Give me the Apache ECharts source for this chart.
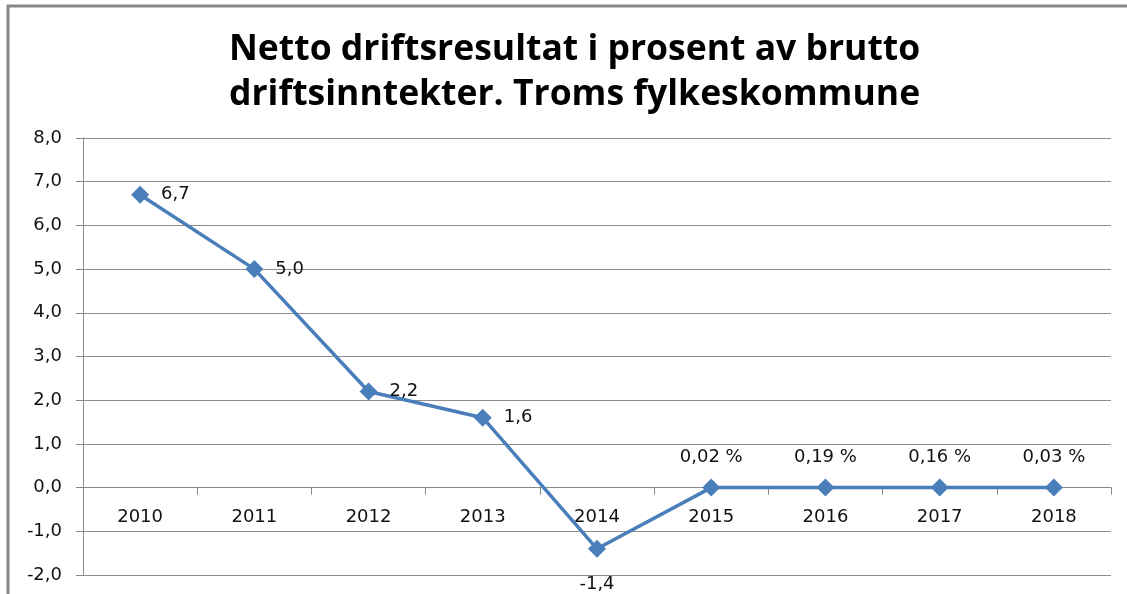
<!DOCTYPE html>
<html>
<head>
<meta charset="utf-8">
<script src="https://cdn.jsdelivr.net/npm/echarts@6/dist/echarts.min.js"></script>
<style>
  html, body { margin: 0; padding: 0; background: #fff; }
  #chart { width: 1127px; height: 594px; }
</style>
</head>
<body>
<div id="chart"></div>
<script>
const years = ['2010', '2011', '2012', '2013', '2014', '2015', '2016', '2017', '2018'];
// 2015-2018 are given as fractions and labelled as percent
const values = [6.7, 5.0, 2.2, 1.6, -1.4, 0.0002, 0.0019, 0.0016, 0.0003];
const labelPos = ['right', 'right', 'right', 'right', 'bottom', 'top', 'top', 'top', 'top'];

const fmt = v => {
    if (v !== 0 && Math.abs(v) < 0.01) return (v * 100).toFixed(2).replace('.', ',') + ' %';
    return v.toFixed(1).replace('.', ',');
};

const gridTop = 138, gridBottom = 19, yMin = -2, yMax = 8;
const plotH = 594 - gridTop - gridBottom;
// pull the category axis (and its labels) up to the zero line
const zeroOffset = -plotH * (0 - yMin) / (yMax - yMin);

const myChart = echarts.init(document.getElementById('chart'));

const option = {
    backgroundColor: '#fff',
    animation: false,
    title: {
        text: 'Netto driftsresultat i prosent av brutto\ndriftsinntekter. Troms fylkeskommune',
        left: 224,
        top: 22,
        textStyle: {
            fontFamily: 'Open Sans',
            fontWeight: 'bold',
            fontSize: 35.5,
            lineHeight: 45,
            color: '#000'
        },
        textAlign: 'left'
    },
    graphic: [{
        type: 'rect',
        shape: { x: 8, y: 6, width: 1300, height: 800 },
        style: { fill: 'none', stroke: '#878787', lineWidth: 3 },
        silent: true
    }],
    grid: { left: 83, right: 16, top: gridTop, bottom: gridBottom, outerBoundsMode: 'none' },
    xAxis: {
        type: 'category',
        data: years,
        offset: zeroOffset,
        axisLine: { onZero: false, lineStyle: { color: '#888', width: 1 } },
        axisTick: { show: true, length: 7, lineStyle: { color: '#888' } },
        axisLabel: { color: '#111', fontSize: 18, fontFamily: 'DejaVu Sans', margin: 21 },
        splitLine: { show: false }
    },
    yAxis: {
        type: 'value',
        min: yMin,
        max: yMax,
        interval: 1,
        axisLine: { show: true, lineStyle: { color: '#888', width: 1 } },
        axisTick: { show: true, length: 7, lineStyle: { color: '#888' } },
        axisLabel: { color: '#111', fontSize: 18, fontFamily: 'DejaVu Sans', margin: 21, formatter: fmt },
        splitLine: { lineStyle: { color: '#8c8c8c', width: 1 } }
    },
    series: [{
        type: 'line',
        data: values.map((v, i) => ({
            value: v,
            label: { position: labelPos[i], distance: labelPos[i] === 'bottom' ? 18 : 12 }
        })),
        color: '#4A7EBB',
        lineStyle: { width: 3.5, color: '#4A7EBB' },
        symbol: 'diamond',
        symbolSize: 18,
        itemStyle: { color: '#4A7EBB' },
        label: {
            show: true,
            color: '#111',
            fontSize: 18,
            fontFamily: 'DejaVu Sans',
            formatter: p => fmt(p.value)
        }
    }]
};

myChart.setOption(option);
</script>
</body>
</html>
